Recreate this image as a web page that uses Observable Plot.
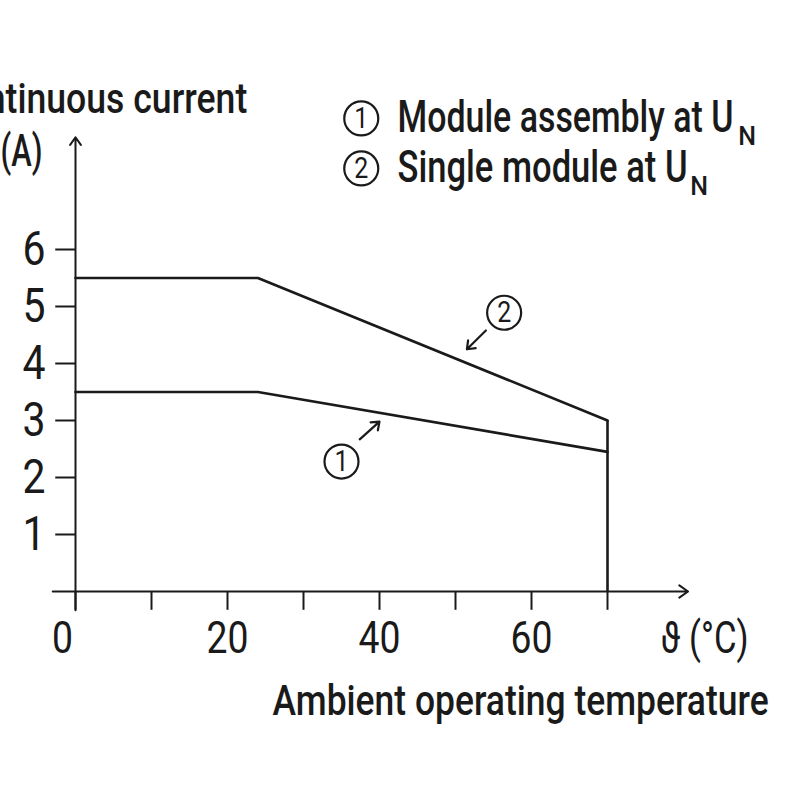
<!DOCTYPE html>
<html><head><meta charset="utf-8">
<script src="https://cdn.jsdelivr.net/npm/d3@7"></script>
<script src="https://cdn.jsdelivr.net/npm/@observablehq/plot@0.6"></script>
<style>
body{margin:0;background:#fff;}
#chart svg{display:block;}
</style></head><body><div id="chart"></div>
<script>
// ---- data ----
const temperature = [0, 24, 70];
const currentSingle = [5.5, 5.5, 3.0];     // ② Single module at UN
const currentAssembly = [3.5, 3.5, 2.45];  // ① Module assembly at UN
const cutoffTemp = 70;
const yTicks = [1, 2, 3, 4, 5, 6];
const xTicks = [0, 10, 20, 30, 40, 50, 60, 70];
const xLabels = [0, 20, 40, 60];
const legendNumbers = ["1", "2"];
const legendLabels = ["Module assembly at U", "Single module at U"];
const legendSub = "N";
const xTitle = "Ambient operating temperature";
const xUnit = "ϑ (°C)";
const yTitle = "Continuous current";
const yUnit = "(A)";

const single = temperature.map((t, i) => ({t, c: currentSingle[i]}));
const assembly = temperature.map((t, i) => ({t, c: currentAssembly[i]}));

// ---- layout (data units) ----
const ink = "#1a1a1a";
const font = "Roboto, 'Noto Sans', sans-serif";
const weight = 500;
const legendRows = legendLabels.map((label, i) => ({
  num: legendNumbers[i], label, x: 37.6, y: 8.30 - i * 0.877,
  subX: [87.2, 80.9][i]
}));
const calloutCircles = [
  {num: "2", x: 56.4, y: 4.89},
  {num: "1", x: 35.0, y: 2.28}
];
const calloutArrows = [
  {x1: 54.0, y1: 4.58, x2: 51.5, y2: 4.25},
  {x1: 37.4, y1: 2.67, x2: 40.0, y2: 2.98}
];
// rendered widths (px) to mimic the condensed typeface of the original
const fitWidths = new Map([
  [xTitle, 496], [xUnit, 88], [yTitle, 305], [yUnit, 42],
  [legendLabels[0], 336], [legendLabels[1], 290]
]);

const chart = Plot.plot({
  width: 800,
  height: 800,
  marginLeft: 75,
  marginRight: 193,
  marginTop: 249,
  marginBottom: 209,
  x: {domain: [0, 70], axis: null},
  y: {domain: [0, 6], axis: null},
  style: {fontFamily: font, color: ink, background: "#fff"},
  marks: [
    // axis lines with arrows
    Plot.arrow([0], {x1: () => 0, x2: () => 0, y1: () => -0.33, y2: () => 7.97, stroke: ink, strokeWidth: 2, headLength: 7, headAngle: 70}),
    Plot.arrow([0], {x1: () => -3, x2: () => 80.6, y1: () => 0, y2: () => 0, stroke: ink, strokeWidth: 2, headLength: 8, headAngle: 70}),
    // ticks
    Plot.ruleY(yTicks, {y: d => d, x1: () => -2.6, x2: () => 0, stroke: ink, strokeWidth: 2}),
    Plot.ruleX(xTicks, {x: d => d, y1: () => 0, y2: () => -0.33, stroke: ink, strokeWidth: 2}),
    Plot.text(yTicks, {x: () => -3.95, y: d => d, text: d => String(d), textAnchor: "end", lineAnchor: "middle", fontSize: 48, fill: ink}),
    Plot.text(xLabels.filter(d => d === 0), {x: d => d, y: () => -0.84, text: d => String(d), dx: -13, lineAnchor: "middle", fontSize: 44, fill: ink}),
    Plot.text(xLabels.filter(d => d !== 0), {x: d => d, y: () => -0.84, text: d => String(d), lineAnchor: "middle", fontSize: 44, fill: ink}),
    // curves
    Plot.line(single, {x: "t", y: "c", stroke: ink, strokeWidth: 2.6}),
    Plot.line(assembly, {x: "t", y: "c", stroke: ink, strokeWidth: 2.6}),
    Plot.ruleX([cutoffTemp], {x: d => d, y1: () => 0, y2: () => currentSingle[currentSingle.length - 1], stroke: ink, strokeWidth: 2.6}),
    // callouts
    Plot.dot(calloutCircles, {x: "x", y: "y", r: 17, stroke: ink, strokeWidth: 2.2, fill: "#fff"}),
    Plot.text(calloutCircles, {x: "x", y: "y", text: "num", fontSize: 30, lineAnchor: "middle", fill: ink}),
    Plot.arrow(calloutArrows, {x1: "x1", y1: "y1", x2: "x2", y2: "y2", stroke: ink, strokeWidth: 2.2, headLength: 8, headAngle: 75}),
    // legend
    Plot.dot(legendRows, {x: "x", y: "y", r: 17, stroke: ink, strokeWidth: 2.2, fill: "#fff"}),
    Plot.text(legendRows, {x: "x", y: "y", text: "num", fontSize: 30, lineAnchor: "middle", fill: ink}),
    Plot.text(legendRows, {x: () => 42.37, y: d => d.y - 0.245, text: "label", textAnchor: "start", lineAnchor: "bottom", fontSize: 45, fontWeight: weight, fill: ink}),
    Plot.text(legendRows, {x: "subX", y: d => d.y - 0.475, text: () => legendSub, textAnchor: "start", lineAnchor: "bottom", fontSize: 25, fontWeight: weight, fill: ink}),
    // titles
    Plot.text([yTitle], {x: () => 22.6, y: () => 8.386, text: d => d, textAnchor: "end", lineAnchor: "bottom", fontSize: 42, fontWeight: weight, fill: ink}),
    Plot.text([yUnit], {x: () => -4.34, y: () => 7.72, text: d => d, textAnchor: "end", lineAnchor: "middle", fontSize: 44, fontWeight: weight, fill: ink}),
    Plot.text([xUnit], {x: () => 76.97, y: () => -0.84, text: d => d, textAnchor: "start", lineAnchor: "middle", fontSize: 44, fill: ink}),
    Plot.text([xTitle], {x: () => 91.2, y: () => -2.175, text: d => d, textAnchor: "end", lineAnchor: "bottom", fontSize: 42, fontWeight: weight, fill: ink})
  ]
});

// condense text to the original's widths
chart.querySelectorAll("text").forEach(t => {
  const s = t.textContent;
  const fs = +(t.getAttribute("font-size") || t.parentNode.getAttribute("font-size"));
  let w = fitWidths.get(s);
  if (w == null && /^\d+$/.test(s)) {
    if (fs === 48) w = 23 * s.length;
    else if (fs === 44) w = 21 * s.length;
    else if (fs === 30) w = 14;
  }
  if (w != null) {
    t.setAttribute("textLength", w);
    t.setAttribute("lengthAdjust", "spacingAndGlyphs");
  }
});
document.getElementById("chart").append(chart);
</script></body></html>
